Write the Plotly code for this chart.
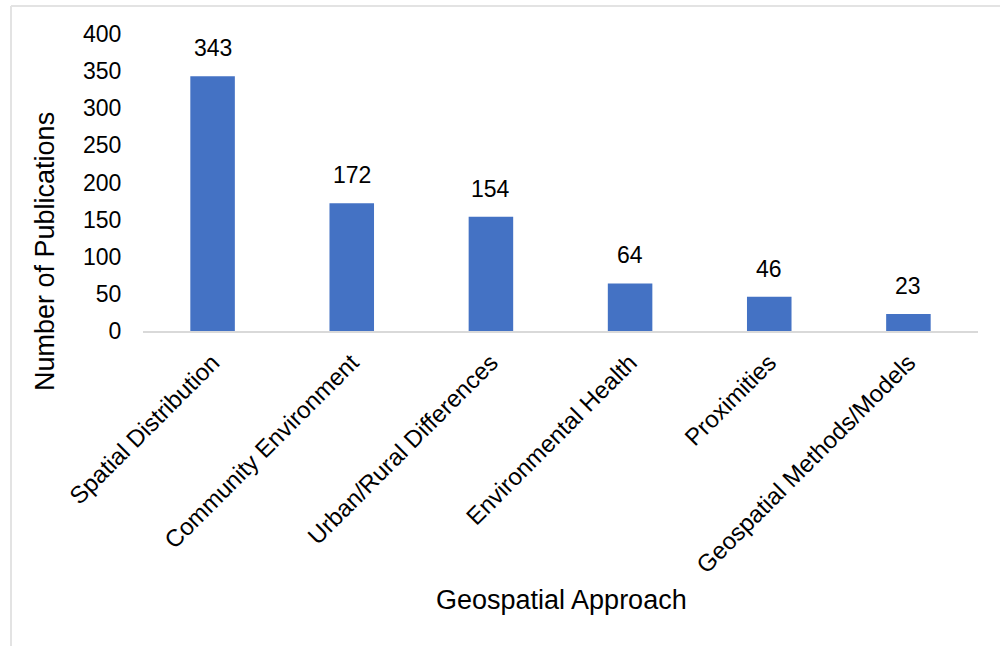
import plotly.graph_objects as go

categories = ["Spatial Distribution", "Community Environment", "Urban/Rural Differences",
              "Environmental Health", "Proximities", "Geospatial Methods/Models"]
values = [343, 172, 154, 64, 46, 23]
y_ticks = [0, 50, 100, 150, 200, 250, 300, 350, 400]

W, H = 1003, 646
L, R, T, B = 143, 25, 34, 315
pw = W - L - R
ph = H - T - B

FAM = "Liberation Sans, Arial"
fig = go.Figure(go.Bar(
    x=categories, y=values,
    marker=dict(color="#4472C4", line=dict(width=0)),
    width=0.32,
    cliponaxis=False,
))

annotations = [
    dict(x=c, y=v, xref="x", yref="y", text=str(v), showarrow=False,
         yanchor="middle", yshift=28, font=dict(family=FAM, size=23, color="#000"))
    for c, v in zip(categories, values)
]
annotations += [
    dict(text="Geospatial Approach", xref="paper", yref="paper",
         x=(561 - L) / pw, y=(H - B - 600) / ph, showarrow=False,
         xanchor="center", yanchor="middle",
         font=dict(family=FAM, size=27, color="#000")),
    dict(text="Number of Publications", xref="paper", yref="paper",
         x=(45 - L) / pw, y=(H - B - 252) / ph, showarrow=False, textangle=-90,
         xanchor="center", yanchor="middle",
         font=dict(family=FAM, size=27, color="#000")),
]

fig.update_layout(
    width=W, height=H,
    margin=dict(l=L, r=R, t=T, b=B, pad=0),
    plot_bgcolor="white", paper_bgcolor="white",
    showlegend=False,
    font=dict(family=FAM, color="#000"),
    xaxis=dict(
        tickangle=-45, tickfont=dict(family=FAM, size=24, color="#000"),
        showline=True, linecolor="#d9d9d9", linewidth=2,
        ticks="outside", ticklen=6, tickcolor="white", showgrid=False,
    ),
    yaxis=dict(
        range=[0, 400], tickvals=y_ticks, showgrid=False, zeroline=False,
        tickfont=dict(family=FAM, size=23, color="#000"),
        ticks="outside", ticklen=16, tickcolor="white",
    ),
    annotations=annotations,
    shapes=[
        dict(type="line", xref="paper", yref="paper",
             x0=(11 - L) / pw, x1=(1000 - L) / pw,
             y0=(H - B - 6) / ph, y1=(H - B - 6) / ph,
             line=dict(color="#e3e3e3", width=2)),
        dict(type="line", xref="paper", yref="paper",
             x0=(11 - L) / pw, x1=(11 - L) / pw,
             y0=(H - B - 6) / ph, y1=(H - B - 646) / ph,
             line=dict(color="#e3e3e3", width=2)),
    ],
)

fig.write_html("out.html")
